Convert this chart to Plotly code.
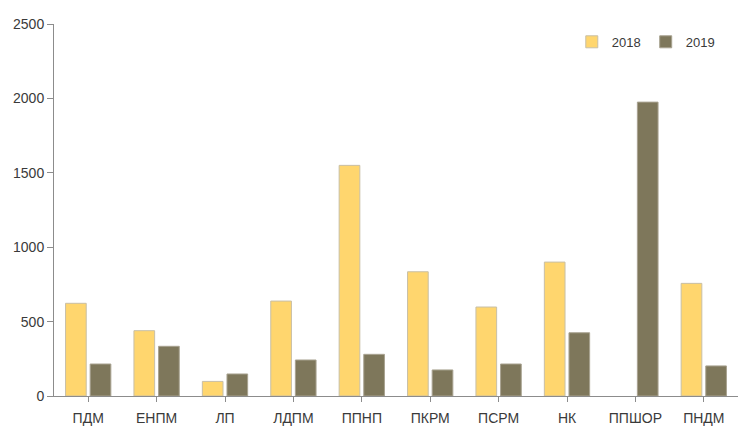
import plotly.graph_objects as go

categories = ["ПДМ", "ЕНПМ", "ЛП", "ЛДПМ", "ППНП", "ПКРМ", "ПСРМ", "НК", "ППШОР", "ПНДМ"]
values_2018 = [623, 439, 98, 638, 1550, 835, 598, 900, None, 757]
values_2019 = [215, 334, 148, 242, 280, 175, 215, 425, 1975, 202]
y_ticks = [0, 500, 1000, 1500, 2000, 2500]

font_family = "Liberation Sans"
text_color = "#3a3a3a"
axis_color = "#8c8c8c"

fig = go.Figure()
fig.add_trace(go.Bar(
    name="2018", x=categories, y=values_2018,
    marker=dict(color="#FFD66E", line=dict(color="#C8BFA6", width=1)),
))
fig.add_trace(go.Bar(
    name="2019", x=categories, y=values_2019,
    marker=dict(color="#7E775B", line=dict(color="#A8A290", width=1)),
))

fig.update_layout(
    width=738, height=428,
    margin=dict(l=54, r=0, t=24, b=32),
    paper_bgcolor="white", plot_bgcolor="white",
    barmode="group", bargap=0.28, bargroupgap=0.16,
    font=dict(family=font_family, size=14, color=text_color),
    legend=dict(
        orientation="h", x=0.757, y=0.952, xanchor="left", yanchor="middle",
        font=dict(size=13, color=text_color), bgcolor="rgba(0,0,0,0)",
        itemwidth=30, tracegroupgap=0,
    ),
    showlegend=True,
)
fig.update_xaxes(
    showline=True, linecolor=axis_color, linewidth=1,
    ticks="outside", ticklen=5, tickcolor=axis_color,
    showgrid=False, tickfont=dict(size=14, color=text_color),
    ticklabelstandoff=4,
    range=[-0.5, 9.5],
)
fig.update_yaxes(
    range=[0, 2500], tickvals=y_ticks,
    showline=True, linecolor=axis_color, linewidth=1,
    ticks="outside", ticklen=6, tickcolor=axis_color,
    showgrid=False, zeroline=False, tickfont=dict(size=14, color=text_color),
)

fig.write_html("out.html")
